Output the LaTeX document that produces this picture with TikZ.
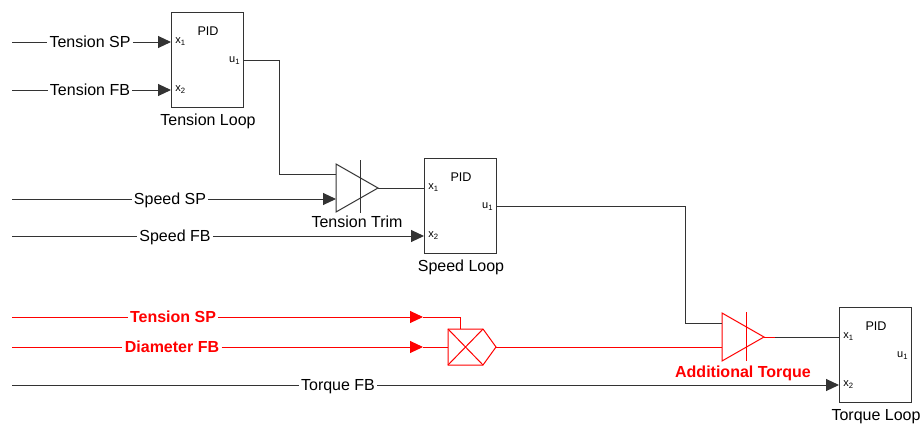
\documentclass[tikz,border=0pt]{standalone}
\usepackage{fontspec}
\setmainfont{Liberation Sans}
\usetikzlibrary{arrows.meta}
\definecolor{ink}{HTML}{333333}
\definecolor{sigred}{HTML}{FF0000}

\tikzset{
  wire/.style={line width=0.5pt, draw=ink},
  feed/.style={wire, -{Triangle[length=6.5pt,width=6pt]}},
  redwire/.style={line width=0.5pt, draw=sigred},
  redfeed/.style={redwire, -{Triangle[length=6.5pt,width=6pt]}},
  pidbox/.style={draw=ink, line width=0.5pt, minimum width=36pt, minimum height=47.5pt, inner sep=0pt},
  tag/.style={inner sep=1pt, font=\fontsize{8}{9}\selectfont, text height=5.8pt, text depth=0pt},
  redtag/.style={tag, text=sigred, font=\fontsize{8}{9}\selectfont\bfseries},
  port/.style={inner sep=0pt, font=\fontsize{5.5}{6}\selectfont},
}

\begin{document}
\begin{tikzpicture}[x=0.5pt, y=-0.5pt]
  \useasboundingbox (0,0) rectangle (920,423);

  \foreach \n/\x/\y/\t in {tl/171/12/Tension Loop, sl/424/158/Speed Loop, ql/839/307/Torque Loop} {
    \node[pidbox] (\n) at (\x+36,\y+47.5) {};
    \node[port, font=\fontsize{6.3}{7}\selectfont] (\n-pid) at (\x+37,\y+19) {PID};
    \node[port, anchor=west] (\n-x1l) at (\x+4,\y+30) {x\textsubscript{1}};
    \node[port, anchor=west] (\n-x2l) at (\x+4,\y+78) {x\textsubscript{2}};
    \node[port, anchor=east] (\n-u1l) at (\x+70,\y+49) {u\textsubscript{1}};
    \node[tag] (\n-name) at (\x+37,\y+108) {\t};
    \coordinate (\n-x1) at (\x,\y+30);
    \coordinate (\n-x2) at (\x,\y+78);
    \coordinate (\n-u1) at (\x+72,\y+48);
  }

  \coordinate (tsp-in) at (12,42);
  \coordinate (tfb-in) at (12,90);
  \coordinate (ssp-in) at (12,199);
  \coordinate (sfb-in) at (12,236);
  \coordinate (rsp-in) at (12,317);
  \coordinate (dfb-in) at (12,347);
  \coordinate (qfb-in) at (12,385);
  \coordinate (rsp-tip) at (423,317);
  \coordinate (dfb-tip) at (423,347);

  \node[tag] (tsp-l) at (90,42) {Tension SP};
  \node[tag] (tfb-l) at (90,90) {Tension FB};
  \node[tag] (ssp-l) at (170,199) {Speed SP};
  \node[tag] (sfb-l) at (175,236) {Speed FB};
  \node[redtag] (rsp-l) at (173,317) {Tension SP};
  \node[redtag] (dfb-l) at (172,347) {Diameter FB};
  \node[tag] (qfb-l) at (338,385) {Torque FB};
  \node[tag] (tt-l) at (357,222) {Tension Trim};
  \node[redtag] (at-l) at (743,372) {Additional Torque};

  \coordinate (tt-in1) at (336,174);
  \coordinate (tt-in2) at (336,199);
  \coordinate (tt-out) at (378,188);
  \draw[wire] (336,164) -- (tt-out) -- (336,212) -- cycle;
  \draw[wire] (360,160) -- (360,213);

  \coordinate (mul-in) at (448,347);
  \coordinate (mul-top) at (460,329);
  \coordinate (mul-out) at (496,347);
  \draw[redwire] (448,329) -- (483,329) -- (mul-out) -- (483,365) -- (448,365) -- cycle;
  \draw[redwire] (448,329) -- (483,365) (448,365) -- (483,329);

  \coordinate (at-in1) at (722,323);
  \coordinate (at-in2) at (722,347);
  \coordinate (at-out) at (764,337);
  \coordinate (at-stub) at (775,337);
  \draw[redwire] (722,313) -- (at-out) -- (722,361) -- cycle;
  \draw[redwire] (746,312) -- (746,361);

  \draw[wire] (tsp-in) -- (tsp-l);
  \draw[feed] (tsp-l) -- (tl-x1);
  \draw[wire] (tfb-in) -- (tfb-l);
  \draw[feed] (tfb-l) -- (tl-x2);
  \draw[wire] (tl-u1) -- ++(36,0) |- (tt-in1);
  \draw[wire] (ssp-in) -- (ssp-l);
  \draw[feed] (ssp-l) -- (tt-in2);
  \draw[wire] (tt-out) -- (sl-x1);
  \draw[wire] (sfb-in) -- (sfb-l);
  \draw[feed] (sfb-l) -- (sl-x2);
  \draw[wire] (sl-u1) -- ++(189,0) |- (at-in1);

  \draw[redwire] (rsp-in) -- (rsp-l);
  \draw[redfeed] (rsp-l) -- (rsp-tip);
  \draw[redwire] (rsp-tip) -| (mul-top);
  \draw[redwire] (dfb-in) -- (dfb-l);
  \draw[redfeed] (dfb-l) -- (dfb-tip);
  \draw[redwire] (dfb-tip) -- (mul-in);
  \draw[redwire] (mul-out) -- (at-in2);
  \draw[redwire] (at-out) -- (at-stub);
  \draw[wire] (at-stub) -- (ql-x1);
  \draw[wire] (qfb-in) -- (qfb-l);
  \draw[feed] (qfb-l) -- (ql-x2);
\end{tikzpicture}
\end{document}
